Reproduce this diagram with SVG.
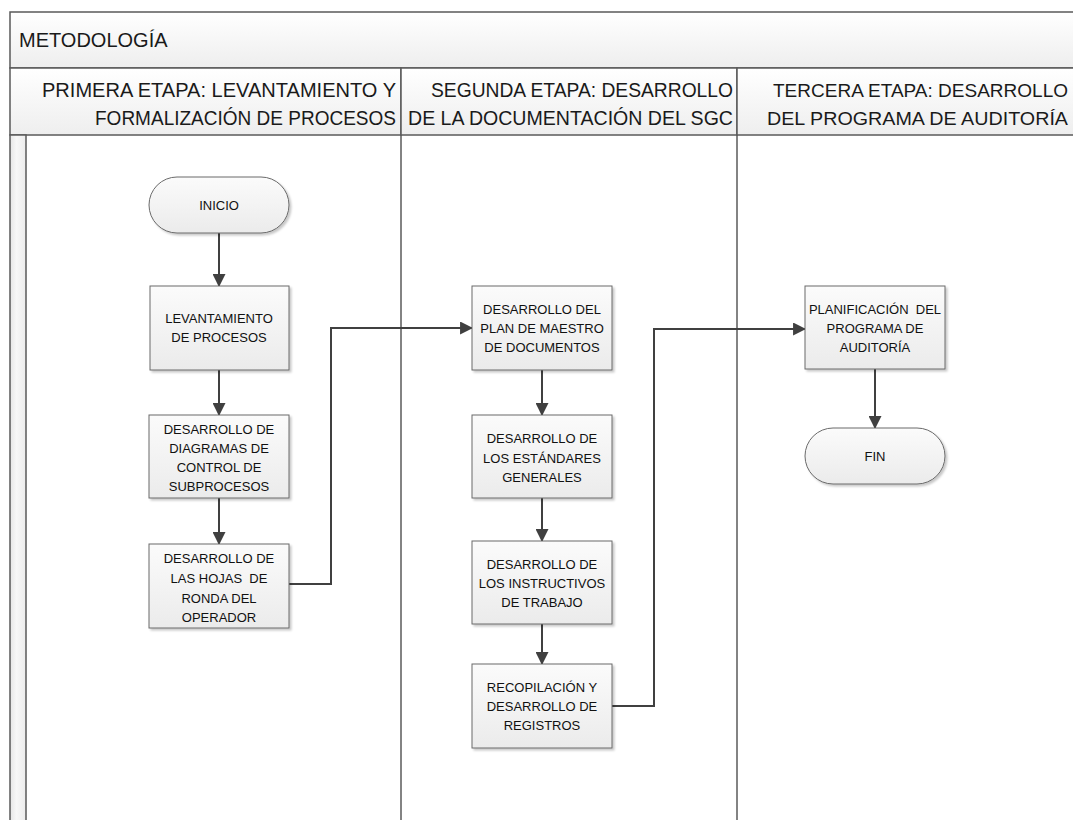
<svg xmlns="http://www.w3.org/2000/svg" width="1073" height="820" viewBox="0 0 1073 820">
  <defs>
    <linearGradient id="bandFill" x1="0" y1="0" x2="0" y2="1">
      <stop offset="0" stop-color="#ffffff"/>
      <stop offset="1" stop-color="#eeeeee"/>
    </linearGradient>
    <linearGradient id="stripFill" x1="0" y1="0" x2="1" y2="0">
      <stop offset="0" stop-color="#e6e6e6"/>
      <stop offset="0.4" stop-color="#f8f8f8"/>
      <stop offset="1" stop-color="#ececec"/>
    </linearGradient>
    <linearGradient id="boxFill" x1="0" y1="0" x2="0" y2="1">
      <stop offset="0" stop-color="#fbfbfb"/>
      <stop offset="1" stop-color="#ebebeb"/>
    </linearGradient>
    <filter id="shadow" x="-10%" y="-10%" width="130%" height="130%">
      <feDropShadow dx="2" dy="2" stdDeviation="1.2" flood-color="#000" flood-opacity="0.22"/>
    </filter>
    <marker id="arrow" viewBox="0 0 12 12" refX="11" refY="6" markerWidth="13" markerHeight="13" markerUnits="userSpaceOnUse" orient="auto">
      <path d="M0,0 L12,6 L0,12 Z" fill="#404040"/>
    </marker>
  </defs>
  <style>
    .frame { fill: none; stroke: #5a5a5a; stroke-width: 1.5; }
    .band { fill: url(#bandFill); stroke: #5a5a5a; stroke-width: 1.5; }
    .head { font-family: "Liberation Sans", Arial, sans-serif; font-size: 20px; fill: #1a1a1a; }
    .head.narrow { font-size: 18.7px; }
    .box { fill: url(#boxFill); stroke: #6a6a6a; stroke-width: 1; filter: url(#shadow); }
    .label { font-family: "Liberation Sans", Arial, sans-serif; font-size: 13px; fill: #111111; text-anchor: middle; white-space: pre; }
    .conn { fill: none; stroke: #404040; stroke-width: 2; marker-end: url(#arrow); }
  </style>

  <rect width="1073" height="820" fill="#ffffff"/>

  <!-- pool title band (right edge runs to the page border) -->
  <g id="pool-title">
    <rect class="band" x="10" y="12" width="1064" height="56"/>
    <text class="head" x="19" y="47">METODOLOGÍA</text>
  </g>

  <!-- phase headers -->
  <g id="lane-headers">
    <rect class="band" x="10" y="68" width="391" height="67"/>
    <rect class="band" x="401" y="68" width="336" height="67"/>
    <rect class="band" x="737" y="68" width="337" height="67"/>
    <text class="head" x="42" y="97" textLength="354" lengthAdjust="spacingAndGlyphs">PRIMERA ETAPA: LEVANTAMIENTO Y</text>
    <text class="head" x="95" y="125" textLength="301" lengthAdjust="spacingAndGlyphs">FORMALIZACIÓN DE PROCESOS</text>
    <text class="head" x="431" y="97" textLength="302" lengthAdjust="spacingAndGlyphs">SEGUNDA ETAPA: DESARROLLO</text>
    <text class="head" x="408" y="125" textLength="325" lengthAdjust="spacingAndGlyphs">DE LA DOCUMENTACIÓN DEL SGC</text>
    <text class="head narrow" x="773" y="97" textLength="295" lengthAdjust="spacingAndGlyphs">TERCERA ETAPA: DESARROLLO</text>
    <text class="head narrow" x="767" y="125" textLength="301" lengthAdjust="spacingAndGlyphs">DEL PROGRAMA DE AUDITORÍA</text>
  </g>

  <!-- lane bodies -->
  <g id="lanes">
    <rect x="10" y="135" width="16" height="690" fill="url(#stripFill)" stroke="#5a5a5a" stroke-width="1.5"/>
    <line class="frame" x1="401" y1="135" x2="401" y2="825"/>
    <line class="frame" x1="737" y1="135" x2="737" y2="825"/>
  </g>

  <!-- connectors -->
  <g id="connectors">
    <line class="conn" x1="219" y1="233" x2="219" y2="286"/>
    <line class="conn" x1="219" y1="370" x2="219" y2="415"/>
    <line class="conn" x1="219" y1="498" x2="219" y2="544"/>
    <polyline class="conn" points="289,584 331,584 331,328 472,328"/>
    <line class="conn" x1="542" y1="370" x2="542" y2="415"/>
    <line class="conn" x1="542" y1="498" x2="542" y2="541"/>
    <line class="conn" x1="542" y1="624" x2="542" y2="664"/>
    <polyline class="conn" points="612,706 654,706 654,329 805,329"/>
    <line class="conn" x1="875" y1="369" x2="875" y2="428"/>
  </g>

  <!-- primera etapa -->
  <g id="inicio">
    <rect class="box" x="149" y="177" width="140" height="56" rx="28" ry="28"/>
    <text class="label" x="219" y="210">INICIO</text>
  </g>
  <g id="levantamiento">
    <rect class="box" x="150" y="286" width="139" height="84"/>
    <text class="label" x="219" y="323">LEVANTAMIENTO</text>
    <text class="label" x="219" y="342">DE PROCESOS</text>
  </g>
  <g id="diagramas">
    <rect class="box" x="149" y="415" width="140" height="83"/>
    <text class="label" x="219" y="434">DESARROLLO DE</text>
    <text class="label" x="219" y="453">DIAGRAMAS DE</text>
    <text class="label" x="219" y="472">CONTROL DE</text>
    <text class="label" x="219" y="491">SUBPROCESOS</text>
  </g>
  <g id="hojas-ronda">
    <rect class="box" x="149" y="544" width="140" height="84"/>
    <text class="label" x="219" y="563">DESARROLLO DE</text>
    <text class="label" x="219" y="583" xml:space="preserve">LAS HOJAS  DE</text>
    <text class="label" x="219" y="603">RONDA DEL</text>
    <text class="label" x="219" y="622">OPERADOR</text>
  </g>

  <!-- segunda etapa -->
  <g id="plan-maestro">
    <rect class="box" x="472" y="286" width="140" height="84"/>
    <text class="label" x="542" y="314">DESARROLLO DEL</text>
    <text class="label" x="542" y="333">PLAN DE MAESTRO</text>
    <text class="label" x="542" y="352">DE DOCUMENTOS</text>
  </g>
  <g id="estandares">
    <rect class="box" x="472" y="415" width="140" height="83"/>
    <text class="label" x="542" y="443">DESARROLLO DE</text>
    <text class="label" x="542" y="463">LOS ESTÁNDARES</text>
    <text class="label" x="542" y="482">GENERALES</text>
  </g>
  <g id="instructivos">
    <rect class="box" x="472" y="541" width="140" height="83"/>
    <text class="label" x="542" y="569">DESARROLLO DE</text>
    <text class="label" x="542" y="588">LOS INSTRUCTIVOS</text>
    <text class="label" x="542" y="607">DE TRABAJO</text>
  </g>
  <g id="registros">
    <rect class="box" x="472" y="664" width="140" height="84"/>
    <text class="label" x="542" y="692">RECOPILACIÓN Y</text>
    <text class="label" x="542" y="711">DESARROLLO DE</text>
    <text class="label" x="542" y="730">REGISTROS</text>
  </g>

  <!-- tercera etapa -->
  <g id="planificacion">
    <rect class="box" x="805" y="286" width="140" height="83"/>
    <text class="label" x="875" y="314" xml:space="preserve">PLANIFICACIÓN  DEL</text>
    <text class="label" x="875" y="333">PROGRAMA DE</text>
    <text class="label" x="875" y="352">AUDITORÍA</text>
  </g>
  <g id="fin">
    <rect class="box" x="805" y="428" width="140" height="56" rx="28" ry="28"/>
    <text class="label" x="875" y="461">FIN</text>
  </g>
</svg>
